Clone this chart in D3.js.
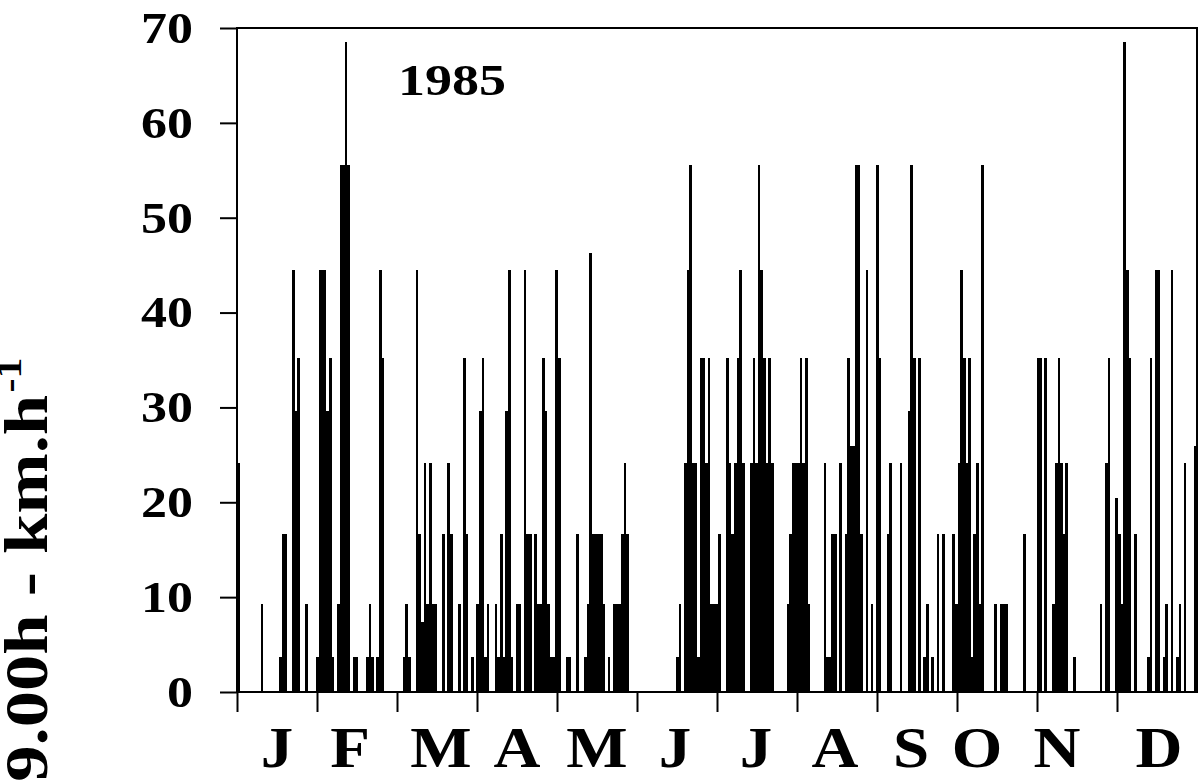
<!DOCTYPE html>
<html><head><meta charset="utf-8">
<script src="https://cdn.jsdelivr.net/npm/d3@7"></script>
<style>html,body{margin:0;padding:0;background:#fff;} svg{display:block;}</style>
</head><body>
<svg id="chart" width="1199" height="782"></svg>
<script>
// Daily wind speed at 09.00h (km/h), 1985, one array per month
const jan = [24.1,0,0,0,0,0,0,0,0,9.3, 0,0,0,0,0,0,3.7,16.7,16.7,0, 0,44.5,29.6,35.2,0,0,9.3,0,0,0, 3.7];
const feb = [44.5,44.5,44.5,29.6,35.2,3.7,0,9.3,55.6,55.6, 68.5,55.6,0,3.7,3.7,0,0,0,3.7,9.3, 3.7,0,3.7,44.5,35.2,0,0,0];
const mar = [0,0,0,0,3.7,9.3,3.7,0,0,44.5, 16.7,7.4,24.1,9.3,24.1,9.3,9.3,0,0,16.7, 0,24.1,16.7,0,0,9.3,0,35.2,16.7,0, 3.7];
const apr = [0,9.3,29.6,35.2,3.7,9.3,0,0,9.3,3.7, 16.7,3.7,29.6,44.5,3.7,0,9.3,9.3,0,44.5, 16.7,16.7,0,16.7,9.3,9.3,35.2,29.6,9.3,3.7];
const may = [3.7,44.5,35.2,0,0,3.7,3.7,0,0,16.7, 0,0,3.7,9.3,46.3,16.7,16.7,16.7,16.7,9.3, 0,3.7,0,9.3,9.3,9.3,16.7,24.1,16.7,0, 0];
const jun = [0,0,0,0,0,0,0,0,0,0, 0,0,0,0,0,0,3.7,9.3,0,24.1, 44.5,55.6,24.1,24.1,3.7,35.2,35.2,24.1,35.2,9.3];
const jul = [9.3,9.3,16.7,0,0,35.2,24.1,16.7,24.1,35.2, 44.5,24.1,0,0,24.1,35.2,24.1,55.6,44.5,35.2, 24.1,35.2,24.1,0,0,0,0,0,9.3,16.7, 24.1];
const aug = [24.1,24.1,35.2,24.1,35.2,9.3,0,0,0,0, 0,24.1,3.7,3.7,16.7,16.7,0,24.1,0,16.7, 35.2,25.9,25.9,55.6,55.6,16.7,0,44.5,0,9.3, 0];
const sep = [55.6,35.2,0,0,16.7,24.1,0,0,0,24.1, 0,0,29.6,55.6,35.2,0,35.2,0,3.7,9.3, 0,3.7,0,16.7,0,16.7,0,0,0,16.7];
const oct = [9.3,24.1,44.5,35.2,24.1,35.2,3.7,16.7,24.1,9.3, 55.6,0,0,0,0,9.3,0,9.3,9.3,9.3, 0,0,0,0,0,0,16.7,0,0,0, 0];
const nov = [35.2,35.2,0,35.2,0,0,9.3,24.1,35.2,24.1, 16.7,24.1,0,0,3.7,0,0,0,0,0, 0,0,0,0,9.3,0,24.1,35.2,0,0];
const dec = [20.4,16.7,9.3,68.5,44.5,35.2,0,16.7,0,0, 0,0,3.7,35.2,0,44.5,44.5,0,3.7,9.3, 0,44.5,0,3.7,9.3,0,24.1,0,0,0, 25.9];

const monthLabels = ["J","F","M","A","M","J","J","A","S","O","N","D"];
const yTicks = [0,10,20,30,40,50,60,70];
const yearLabel = "1985";
const yTitle = "09.00h - km.h";
const yTitleSup = "-1";

// layout only: small horizontal nudges of the month letters (px), as typeset in the original
const labelNudge = [0,-7,4,0,0,-2,-1,-2,-6,-20,-20,2];

const daily = [jan,feb,mar,apr,may,jun,jul,aug,sep,oct,nov,dec].flat();

const svg = d3.select("#chart");
const L = 237, R = 1197, T = 28, B = 692;
const FONT = "'Liberation Serif','Times New Roman',serif";

const x = d3.scaleLinear().domain([0, daily.length]).range([L, R]);
const y = d3.scaleLinear().domain([0, 70]).range([B, T]);
const xm = d3.scaleLinear().domain([0, 12]).range([L, R]);

// bars
svg.append("g")
  .selectAll("rect")
  .data(daily.map((v, i) => ({v, i})).filter(d => d.v > 0))
  .join("rect")
  .attr("x", d => x(d.i))
  .attr("width", d => x(d.i + 1) - x(d.i))
  .attr("y", d => y(d.v))
  .attr("height", d => y(0) - y(d.v))
  .attr("fill", "#000")
  .attr("shape-rendering", "crispEdges");

// frame
svg.append("rect")
  .attr("x", L).attr("y", T).attr("width", R - L).attr("height", B - T)
  .attr("fill", "none").attr("stroke", "#000").attr("stroke-width", 2);

// y axis
const gy = svg.append("g").attr("transform", `translate(${L},0)`)
  .call(d3.axisLeft(y).tickValues(yTicks).tickSize(17).tickPadding(27).tickFormat(d3.format("d")));
gy.select(".domain").remove();
gy.selectAll(".tick line").attr("stroke", "#000").attr("stroke-width", 2);
gy.selectAll(".tick text").attr("font-family", FONT).attr("font-weight", "bold")
  .attr("font-size", 45).attr("fill", "#000")
  .attr("textLength", d => String(d).length * 26).attr("lengthAdjust", "spacingAndGlyphs");

// x axis (month boundaries)
const gx = svg.append("g").attr("transform", `translate(0,${B})`)
  .call(d3.axisBottom(xm).tickValues(d3.range(12)).tickSize(20).tickFormat(""));
gx.select(".domain").remove();
gx.selectAll(".tick line").attr("stroke", "#000").attr("stroke-width", 2);

// month labels
svg.append("g").selectAll("text").data(monthLabels).join("text")
  .attr("transform", (d, i) => `translate(${xm(i + 0.5) + labelNudge[i]},767) scale(1.14,1)`)
  .attr("text-anchor", "middle")
  .attr("font-family", FONT).attr("font-weight", "bold").attr("font-size", 57)
  .text(d => d);

// year label
svg.append("text")
  .attr("transform", "translate(398,95) scale(1.2,1)")
  .attr("font-family", FONT).attr("font-weight", "bold").attr("font-size", 45)
  .text(yearLabel);

// y title (runs off the bottom edge as in the original)
const yt = svg.append("text")
  .attr("transform", "translate(47,818) rotate(-90) scale(1.17,1)")
  .attr("font-family", FONT).attr("font-weight", "bold").attr("font-size", 62);
yt.append("tspan").text(yTitle);
yt.append("tspan").attr("font-size", 36).attr("dy", -26).attr("dx", 2).text(yTitleSup);
</script>
</body></html>
